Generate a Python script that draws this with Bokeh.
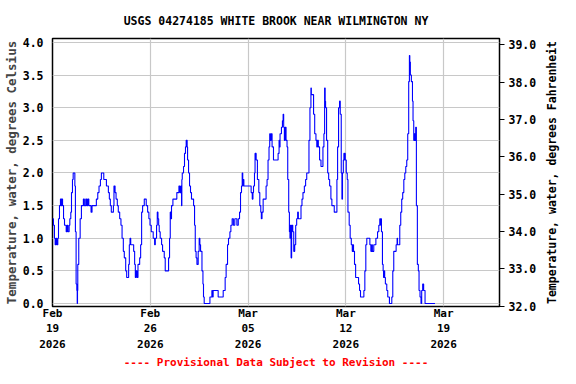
import math
from bokeh.plotting import figure
from bokeh.layouts import row
from bokeh.models import Range1d, LinearAxis, FixedTicker, Title
from bokeh.embed import file_html
from bokeh.resources import INLINE

# Days since 2026-02-19 00:00 and water temperature (deg C)
days = [0.00, 0.07, 0.14, 0.19, 0.25, 0.30, 0.38, 0.43, 0.50, 0.57, 0.62, 0.66, 0.72, 0.79, 0.86, 0.98,
        1.05, 1.10, 1.19, 1.24, 1.31, 1.36, 1.43, 1.48, 1.60, 1.64, 1.69, 1.74, 1.77, 1.79, 1.81, 1.88,
        1.98, 2.07, 2.21, 2.28, 2.38, 2.45, 2.52, 2.60, 2.76, 2.83, 3.14, 3.24, 3.33, 3.43, 3.50, 3.67,
        3.86, 4.00, 4.07, 4.14, 4.21, 4.36, 4.40, 4.48, 4.55, 4.64, 4.71, 4.81, 4.90, 4.98, 5.07, 5.14,
        5.24, 5.31, 5.45, 5.50, 5.55, 5.60, 5.81, 5.88, 5.93, 5.98, 6.05, 6.12, 6.24, 6.31, 6.38, 6.45,
        6.57, 6.71, 6.81, 6.90, 6.98, 7.07, 7.21, 7.31, 7.36, 7.45, 7.50, 7.55, 7.60, 7.64, 7.71, 7.81,
        7.88, 8.00, 8.07, 8.31, 8.38, 8.43, 8.47, 8.52, 8.62, 8.90, 9.05, 9.12, 9.19, 9.24, 9.26, 9.29,
        9.38, 9.45, 9.52, 9.57, 9.64, 9.67, 9.74, 9.81, 9.88, 9.95, 10.10, 10.17, 10.22, 10.28, 10.34, 10.43,
        10.50, 10.55, 10.60, 10.70, 10.77, 10.81, 10.86, 11.27, 11.41, 11.45, 11.50, 11.86, 12.22, 12.36, 12.43, 12.53,
        12.60, 12.70, 12.77, 12.86, 12.95, 13.05, 13.20, 13.30, 13.39, 13.46, 13.53, 13.58, 13.62, 13.65, 13.70, 14.22,
        14.30, 14.35, 14.39, 14.46, 14.50, 14.58, 14.67, 14.77, 14.84, 14.91, 14.95, 15.00, 15.08, 15.17, 15.29, 15.36,
        15.43, 15.50, 15.55, 15.60, 15.65, 15.72, 15.82, 16.15, 16.22, 16.27, 16.29, 16.39, 16.46, 16.51, 16.55, 16.60,
        16.65, 16.72, 16.79, 16.84, 16.91, 16.96, 17.00, 17.03, 17.08, 17.12, 17.20, 17.27, 17.34, 17.41, 17.48, 17.55,
        17.60, 17.70, 17.79, 17.86, 17.93, 18.03, 18.12, 18.20, 18.36, 18.43, 18.50, 18.53, 18.60, 18.69, 18.77, 18.86,
        18.92, 18.96, 19.03, 19.12, 19.22, 19.36, 19.43, 19.48, 19.52, 19.55, 19.62, 19.70, 19.77, 19.84, 19.93, 20.00,
        20.17, 20.36, 20.41, 20.48, 20.55, 20.60, 20.67, 20.72, 20.76, 20.82, 20.86, 20.90, 20.93, 20.96, 21.03, 21.10,
        21.15, 21.24, 21.31, 21.39, 21.46, 21.50, 21.55, 21.62, 21.70, 21.91, 21.98, 22.05, 22.29, 22.36, 22.43, 22.50,
        22.72, 22.79, 22.85, 22.90, 23.00, 23.15, 23.27, 23.36, 23.43, 23.50, 23.53, 23.55, 23.62, 23.67, 23.70, 23.75,
        23.78, 23.83, 23.93, 24.00, 24.12, 24.29, 24.36, 24.43, 24.60, 24.67, 24.70, 24.74, 24.86, 24.93, 25.00, 25.07,
        25.15, 25.22, 25.29, 25.36, 25.43, 25.50, 25.55, 25.58, 25.60, 25.62, 25.69, 25.77, 25.81, 25.86, 25.90, 25.95,
        26.00, 26.05, 26.12, 26.19, 26.24, 26.31, 26.38, 26.43, 26.50, 26.57, 26.67, 27.38]
temp_c = [1.3, 1.2, 1.0, 0.9, 1.0, 0.9, 1.0, 1.3, 1.5, 1.6, 1.5, 1.6, 1.5, 1.3, 1.2, 1.1,
          1.2, 1.1, 1.2, 1.3, 1.4, 1.7, 1.9, 2.0, 1.8, 1.1, 0.3, 0.2, 0.0, 0.2, 0.6, 1.0,
          1.3, 1.5, 1.6, 1.5, 1.6, 1.5, 1.6, 1.5, 1.4, 1.5, 1.6, 1.7, 1.8, 1.9, 2.0, 1.9,
          1.8, 1.7, 1.6, 1.5, 1.4, 1.5, 1.8, 1.7, 1.6, 1.5, 1.4, 1.3, 1.2, 1.0, 0.8, 0.7,
          0.5, 0.4, 0.6, 0.9, 1.0, 0.9, 0.8, 0.6, 0.4, 0.5, 0.4, 0.6, 0.7, 0.9, 1.4, 1.5,
          1.6, 1.5, 1.4, 1.3, 1.2, 1.1, 1.0, 0.9, 1.0, 1.2, 1.4, 1.3, 1.2, 1.1, 1.0, 0.9,
          0.8, 0.7, 0.5, 0.7, 1.0, 1.4, 1.3, 1.5, 1.6, 1.7, 1.8, 1.7, 1.8, 1.5, 1.9, 2.0,
          2.1, 2.3, 2.4, 2.5, 2.4, 2.2, 2.0, 1.8, 1.7, 1.6, 1.5, 1.2, 0.8, 0.7, 0.6, 0.8,
          1.0, 0.9, 0.8, 0.5, 0.3, 0.1, 0.0, 0.1, 0.2, 0.1, 0.2, 0.1, 0.2, 0.4, 0.6, 0.9,
          1.0, 1.1, 1.2, 1.3, 1.2, 1.3, 1.2, 1.3, 1.4, 1.7, 1.8, 2.0, 1.8, 1.9, 1.8, 1.7,
          1.6, 1.7, 1.8, 2.0, 2.3, 2.2, 1.9, 1.7, 1.5, 1.4, 1.3, 1.4, 1.6, 1.6, 1.8, 1.9,
          2.2, 2.4, 2.6, 2.5, 2.6, 2.4, 2.2, 2.3, 2.5, 2.4, 2.6, 2.7, 2.8, 2.9, 2.7, 2.5,
          2.7, 2.5, 2.4, 1.9, 1.4, 1.1, 1.0, 1.2, 0.7, 1.2, 1.1, 0.8, 0.9, 1.2, 1.3, 1.4,
          1.3, 1.3, 1.5, 1.6, 1.7, 1.8, 1.9, 2.0, 2.5, 3.0, 3.3, 3.2, 3.2, 2.9, 2.6, 2.5,
          2.4, 2.5, 2.4, 2.2, 2.1, 2.4, 2.6, 3.3, 3.1, 3.0, 2.5, 2.0, 1.9, 1.8, 1.6, 1.5,
          1.4, 1.9, 2.4, 3.0, 3.1, 2.9, 2.0, 1.6, 2.0, 2.2, 2.3, 2.2, 2.3, 2.2, 2.0, 1.9,
          1.4, 1.2, 1.0, 0.9, 0.8, 0.9, 0.8, 0.6, 0.4, 0.3, 0.2, 0.1, 0.2, 0.5, 0.9, 1.0,
          0.9, 0.8, 0.9, 0.8, 0.9, 1.0, 1.1, 1.2, 1.3, 1.2, 1.3, 1.1, 0.6, 0.5, 0.4, 0.5,
          0.4, 0.3, 0.2, 0.1, 0.0, 0.1, 0.5, 0.8, 0.9, 1.0, 0.9, 0.9, 1.2, 1.4, 1.6, 1.7,
          1.9, 2.0, 2.1, 2.2, 2.6, 3.4, 3.8, 3.6, 3.7, 3.5, 3.4, 3.1, 2.8, 2.5, 2.6, 2.5,
          2.7, 1.5, 0.6, 0.5, 0.2, 0.1, 0.0, 0.2, 0.3, 0.2, 0.0, 0.0]

x_ticks = [0, 7, 14, 21, 28]
x_tick_labels = ["Feb\n19\n2026", "Feb\n26\n2026", "Mar\n05\n2026", "Mar\n12\n2026", "Mar\n19\n2026"]
c_ticks = [0.0, 0.5, 1.0, 1.5, 2.0, 2.5, 3.0, 3.5, 4.0]
f_ticks = [32, 33, 34, 35, 36, 37, 38, 39]
title_text = "USGS 04274185 WHITE BROOK NEAR WILMINGTON NY"
left_label = "Temperature, water, degrees Celsius"
right_label = "Temperature, water, degrees Fahrenheit"
footer_text = "---- Provisional Data Subject to Revision ----"

FONT = "DejaVu Sans Mono"
W, H, RW = 560, 368, 18

p = figure(width=W - RW, height=H, output_backend="svg", toolbar_location=None,
           x_range=Range1d(0, 32), y_range=Range1d(-0.045, 4.06),
           min_border_left=51, min_border_right=43, min_border_top=38, min_border_bottom=30)
p.outline_line_color = "black"
p.outline_line_width = 1.5
p.background_fill_color = "white"
p.border_fill_color = "white"

p.title.text = title_text
p.title.align = "center"
p.title.text_font = FONT
p.title.text_font_style = "bold"
p.title.text_font_size = "11.5px"
p.title.text_color = "black"
p.title.standoff = 22

p.step(days, temp_c, mode="after", line_color="#0000ff", line_width=1.1)

# x axis
xa = p.xaxis[0]
xa.ticker = FixedTicker(ticks=x_ticks)
xa.major_label_overrides = {t: l for t, l in zip(x_ticks, x_tick_labels)}
xa.major_tick_line_color = None
xa.minor_tick_line_color = None
xa.major_tick_out = 0
xa.major_tick_in = 0
xa.axis_line_color = None
xa.major_label_standoff = 0
xa.major_label_text_font = FONT
xa.major_label_text_font_style = "bold"
xa.major_label_text_font_size = "11px"
xa.major_label_text_color = "black"

# left axis
ya = p.yaxis[0]
ya.ticker = FixedTicker(ticks=c_ticks)
ya.major_label_overrides = {t: f"{t:.1f}" for t in c_ticks}
ya.major_tick_out = 0
ya.major_tick_in = 0
ya.minor_tick_line_color = None
ya.axis_line_color = None
ya.major_label_standoff = 9
ya.major_label_text_font = FONT
ya.major_label_text_font_style = "bold"
ya.major_label_text_font_size = "11.5px"
ya.major_label_text_color = "black"
ya.axis_label = left_label
ya.axis_label_text_font = FONT
ya.axis_label_text_font_style = "bold"
ya.axis_label_text_font_size = "12.5px"
ya.axis_label_standoff = 1

# right axis (Fahrenheit)
p.extra_y_ranges = {"f": Range1d(31.99, 39.173)}
ra = LinearAxis(y_range_name="f")
ra.ticker = FixedTicker(ticks=f_ticks)
ra.major_label_overrides = {t: f"{t:.1f}" for t in f_ticks}
ra.major_tick_out = 5
ra.major_tick_in = 0
ra.major_tick_line_color = "black"
ra.minor_tick_line_color = None
ra.axis_line_color = None
ra.major_label_standoff = 4
ra.major_label_text_font = FONT
ra.major_label_text_font_style = "bold"
ra.major_label_text_font_size = "11.5px"
ra.major_label_text_color = "black"
p.add_layout(ra, "right")

p.xgrid.ticker = FixedTicker(ticks=x_ticks)
p.ygrid.ticker = FixedTicker(ticks=c_ticks)
p.xgrid.grid_line_color = "#c8c8c8"
p.ygrid.grid_line_color = "#c8c8c8"
p.xgrid.grid_line_width = 1.2
p.ygrid.grid_line_width = 1.2

footer = Title(text=footer_text, align="center",
               text_font=FONT, text_font_style="bold", text_font_size="11px",
               text_color="#ff0000", standoff=0)
p.add_layout(footer, "below")

# narrow strip carrying the Fahrenheit axis title, reading bottom-to-top
q = figure(width=RW, height=H, output_backend="svg", toolbar_location=None, title=None,
           x_range=Range1d(-1, 1), y_range=Range1d(0, 1), min_border=0)
q.axis.visible = False
q.grid.visible = False
q.outline_line_color = None
q.background_fill_color = "white"
q.border_fill_color = "white"
q.text(x=[0], y=[0.5], text=[right_label], angle=math.pi / 2,
       text_align="center", text_baseline="middle",
       text_font={"value": FONT}, text_font_style="bold", text_font_size="11.5px",
       text_color="black")

layout = row(p, q, spacing=0)
open("out.html", "w").write(file_html(layout, INLINE))
